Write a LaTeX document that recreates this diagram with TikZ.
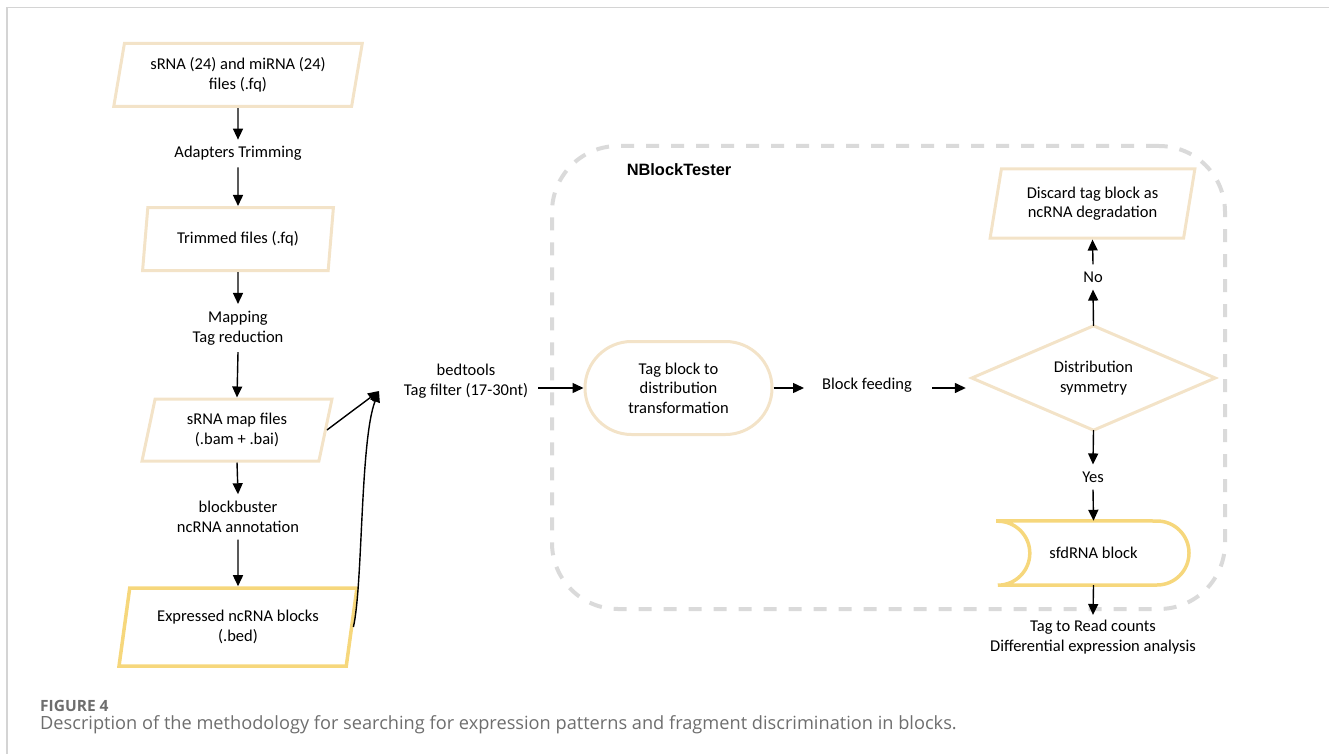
\documentclass[tikz,border=0pt]{standalone}
\usepackage{fontspec}
\setmainfont{Carlito}
\newfontfamily\capfont{Open Sans}
\newfontfamily\boldsans{Liberation Sans}
\usetikzlibrary{shapes.geometric,shapes.misc,arrows.meta}
\definecolor{tanline}{HTML}{F3E3C8}
\definecolor{yelline}{HTML}{F6D77C}
\definecolor{dashgrey}{HTML}{DADADA}
\definecolor{framegrey}{HTML}{D4D4D4}
\definecolor{capgrey}{HTML}{6E6E6E}
\tikzset{
  every node/.style={font=\fontsize{16.5}{19.5}\selectfont},
  para/.style={trapezium, trapezium stretches=true, trapezium left angle=76.5,
    trapezium right angle=103.5, draw=tanline, line width=3pt, align=center, inner sep=0pt},
  parayel/.style={para, draw=yelline, line width=3.5pt},
  lbl/.style={align=center, inner xsep=2pt, inner ysep=7pt},
  arr/.style={-{Triangle[length=11pt,width=10pt]}, line width=1.4pt, black},
  grp/.style={draw=dashgrey, line width=4pt, dash pattern=on 13pt off 12pt, rounded corners=66pt},
}
\begin{document}
\begin{tikzpicture}[x=1pt,y=-1pt]
\useasboundingbox (0,0) rectangle (1329,754);
% frame
\draw[framegrey, line width=1.5pt] (7,754) -- (7,7.5) -- (1329,7.5);

% left column
\node[para, minimum width=249pt, minimum height=63pt] (n1) at (238,75) {sRNA (24) and miRNA (24)\\files (.fq)};
\node[lbl] (l1) at (238,153) {Adapters Trimming};
\node[para, minimum width=191pt, minimum height=63pt] (n2) at (238,239) {Trimmed files (.fq)};
\node[lbl] (l2) at (238,328) {Mapping\\Tag reduction};
\node[para, minimum width=190pt, minimum height=62pt] (n3) at (237,430) {sRNA map files\\(.bam + .bai)};
\node[lbl] (l3) at (238,517) {blockbuster\\ncRNA annotation};
\node[parayel, minimum width=238pt, minimum height=78pt] (n4) at (238,627) {Expressed ncRNA blocks\\(.bed)};

\draw[arr] (n1.south) -- ([yshift=-1pt]l1.north);
\draw[arr] (l1.south) -- (n2.north);
\draw[arr] (n2.south) -- (l2.north);
\draw[arr] (l2.south) -- (n3.north);
\draw[arr] (n3.south) -- (l3.north);
\draw[arr] (l3.south) -- (n4.north);

\coordinate (merge) at (379,391);
\draw[arr] (n3.east) -- (merge);
\draw[arr] (n4.east) .. controls (363,585) and (360,440) .. (merge);

\node[lbl] (bt) at (466,381) {bedtools\\Tag filter (17-30nt)};

% NBlockTester group
\node[grp, minimum width=673pt, minimum height=463pt] (grp) at (888.5,377.5) {};
\node[font=\boldsans\bfseries\fontsize{16.4}{19}\selectfont] (title) at (679,170) {NBlockTester};

\node[rounded rectangle, draw=tanline, line width=3pt, minimum width=187pt, minimum height=93pt, align=center, inner sep=0pt] (tb) at (678.5,388) {Tag block to\\distribution\\transformation};
\node[lbl] (bf) at (867,385) {Block feeding};
\node[minimum width=243pt, minimum height=104pt, inner sep=0pt, align=center] (dia) at (1093.5,378) {Distribution\\symmetry};
\draw[tanline, line width=3pt, line join=miter] (dia.north) -- (dia.east) -- (dia.south) -- (dia.west) -- cycle;

\node[para, minimum width=205pt, minimum height=69pt] (disc) at (1092.5,203.5) {Discard tag block as\\ncRNA degradation};
\node[lbl] (no) at (1093,277) {No};
\node[lbl] (yes) at (1093,477) {Yes};

\node[minimum width=191pt, minimum height=64pt, inner sep=0pt] (sfd) at (1093.5,553) {sfdRNA block};
\draw[yelline, line width=3.5pt] (sfd.north west) -- (1157,521) arc (-90:90:32) -- (sfd.south west) arc (90:-90:32) -- cycle;

\node[lbl] (out) at (1093,637) {Tag to Read counts\\Differential expression analysis};

\draw[arr] ([xshift=8pt]bt.east |- tb.west) -- (tb.west);
\draw[arr] (tb.east) -- ([xshift=-16pt]bf.west |- tb.east);
\draw[arr] ([xshift=18pt]bf.east |- tb.east) -- ([xshift=-6pt]dia.west |- tb.east);
\draw[arr] (dia.north) -- (no.south);
\draw[arr] (no.north) -- (disc.south);
\draw[arr] (dia.south) -- (yes.north);
\draw[arr] (yes.south) -- (sfd.north);
\draw[arr] (sfd.south) -- ([yshift=-2pt]out.north);

% caption
\node[anchor=base west, inner sep=0pt, text=capgrey, font=\capfont\bfseries\fontsize{15.5}{18}\selectfont] (figno) at (40,711) {FIGURE 4};
\node[anchor=base west, inner sep=0pt, text=capgrey, font=\capfont\fontsize{18.2}{22}\selectfont] (cap) at (40,729) {Description of the methodology for searching for expression patterns and fragment discrimination in blocks.};
\end{tikzpicture}
\end{document}
